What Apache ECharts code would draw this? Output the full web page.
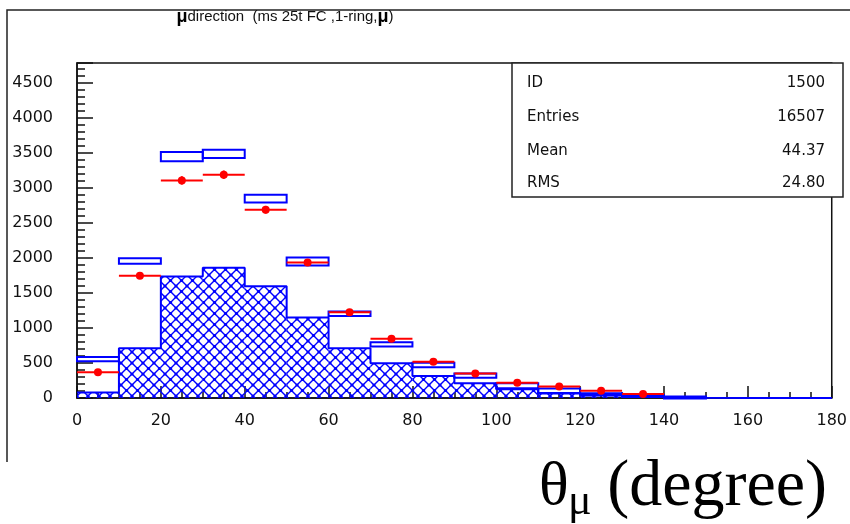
<!DOCTYPE html>
<html><head><meta charset="utf-8">
<script src="https://cdn.jsdelivr.net/npm/echarts@6/dist/echarts.min.js"></script>
<style>html,body{margin:0;padding:0;background:#fff}#c{width:850px;height:524px}</style>
</head><body><div id="c"></div>
<script>
// ---- data (bins of 10 degrees) ----
const binStarts = [0,10,20,30,40,50,60,70,80,90,100,110,120,130,140,150,160,170];
const binWidth = 10;
const hatched  = [80,710,1735,1860,1595,1150,710,495,315,210,125,65,35,15,5,0,0,0];
const mcLow    = [525,1915,3378,3425,2790,1890,1170,735,440,290,140,72,45,22,8,null,null,null];
const mcHigh   = [585,1995,3510,3543,2900,2004,1233,796,504,348,210,135,67,42,20,null,null,null];
const dataVals = [367,1743,3105,3186,2686,1933,1224,847,519,350,219,165,105,57,null,null,null,null];
const dataErr  = [25,45,60,60,55,45,35,30,25,20,15,13,10,8,null,null,null,null];
const statLabels = ['ID','Entries','Mean','RMS'];
const statValues = ['1500','16507','44.37','24.80'];
const titleText = '{b|μ}direction  (ms 25t FC ,1-ring,{b|μ})';

// ---- hatch pattern ----
const T = 11;
const pc = document.createElement('canvas');
pc.width = T; pc.height = T;
const g = pc.getContext('2d');
g.strokeStyle = '#0000ff'; g.lineWidth = 1.4;
g.beginPath(); g.moveTo(-1,-1); g.lineTo(T+1,T+1); g.moveTo(T+1,-1); g.lineTo(-1,T+1); g.stroke();
g.fillStyle = '#0000ff';
[[T/2,T/2],[0,0],[T,0],[0,T],[T,T]].forEach(p=>{g.beginPath(); g.arc(p[0],p[1],1.6,0,Math.PI*2); g.fill();});
const hatchFill = {image: pc, repeat: 'repeat'};

const chart = echarts.init(document.getElementById('c'), null, {renderer:'canvas'});
const BLUE = '#0000ff', RED = '#ff0000';
const labelFont = {fontFamily:'DejaVu Sans', fontSize:16, color:'#111'};

const stepData = binStarts.map((b,i)=>[b,hatched[i]]);
stepData.push([binStarts[binStarts.length-1]+binWidth, hatched[hatched.length-1]]);

const graphics = [
  {type:'polyline', shape:{points:[[7,462],[7,10],[850,10]]}, style:{stroke:'#222', lineWidth:1.5, fill:null}, z:100},
  {type:'text', x:285, y:17, style:{text:titleText, align:'center', verticalAlign:'middle',
     fontFamily:'Liberation Sans', fontSize:15, fill:'#111',
     rich:{b:{fontFamily:'Liberation Sans', fontSize:18, fontWeight:'bold', fill:'#000'}}}, z:100},
  {type:'rect', shape:{x:512, y:63, width:331, height:134}, style:{fill:'#fff', stroke:'#222', lineWidth:1.5}, z:100},
  {type:'text', x:539, y:488, style:{text:'θ', fontFamily:'Liberation Serif', fontSize:62, fill:'#000', align:'left', verticalAlign:'middle'}, z:100},
  {type:'text', x:568, y:502, style:{text:'μ', fontFamily:'Liberation Serif', fontSize:44, fill:'#000', align:'left', verticalAlign:'middle'}, z:100},
  {type:'text', x:827, y:488, style:{text:'(degree)', fontFamily:'Liberation Serif', fontSize:66, fill:'#000', align:'right', verticalAlign:'middle'}, z:100}
];
const rowY = [83,117,151,183];
statLabels.forEach((s,i)=>{
  graphics.push({type:'text', x:527, y:rowY[i], style:{text:s, fontFamily:'DejaVu Sans', fontSize:15, fill:'#111', align:'left', verticalAlign:'middle'}, z:101});
  graphics.push({type:'text', x:825, y:rowY[i], style:{text:statValues[i], fontFamily:'DejaVu Sans', fontSize:15, fill:'#111', align:'right', verticalAlign:'middle'}, z:101});
});

chart.setOption({
  animation:false,
  grid:{left:77, right:7, top:63, bottom:126, show:true, borderColor:'#111', borderWidth:1.5, backgroundColor:'#fff'},
  xAxis:{type:'value', min:0, max:180, interval:20,
    axisLine:{lineStyle:{color:'#111', width:1.5}},
    axisTick:{inside:true, length:12, lineStyle:{color:'#111', width:1.5}},
    minorTick:{show:true, splitNumber:4, length:6, lineStyle:{color:'#111', width:1.5}},
    splitLine:{show:false},
    axisLabel:Object.assign({margin:15, showMaxLabel:true, formatter:v=>String(v)}, labelFont)},
  yAxis:{type:'value', min:0, max:4780, interval:500,
    axisLine:{lineStyle:{color:'#111', width:1.5}},
    axisTick:{inside:true, length:16, lineStyle:{color:'#111', width:1.5}},
    minorTick:{show:true, splitNumber:5, length:8, lineStyle:{color:'#111', width:1.5}},
    splitLine:{show:false},
    axisLabel:Object.assign({margin:24, showMaxLabel:false, formatter:v=>String(v)}, labelFont)},
  graphic:graphics,
  series:[
    {type:'custom', z:2, data:binStarts.map((b,i)=>[b,hatched[i]]),
      renderItem:(p,api)=>{
        const x0=api.value(0), v=api.value(1);
        if(!v) return null;
        const a=api.coord([x0,0]), b=api.coord([x0+binWidth,v]);
        return {type:'rect', shape:{x:a[0], y:b[1], width:b[0]-a[0], height:a[1]-b[1]}, style:{fill:hatchFill}};
      }},
    {type:'line', z:3, step:'end', symbol:'none', data:stepData, lineStyle:{color:BLUE, width:2}},
    {type:'custom', z:4, data:binStarts.map((b,i)=>[b,mcLow[i],mcHigh[i]]).filter(d=>d[1]!=null),
      renderItem:(p,api)=>{
        const x0=api.value(0), lo=api.value(1), hi=api.value(2);
        const a=api.coord([x0,lo]), b=api.coord([x0+binWidth,hi]);
        return {type:'rect', shape:{x:a[0], y:b[1], width:b[0]-a[0], height:Math.max(a[1]-b[1],2)}, style:{fill:null, stroke:BLUE, lineWidth:2}};
      }},
    {type:'custom', z:5, data:binStarts.map((b,i)=>[b,dataVals[i],dataErr[i]]).filter(d=>d[1]!=null),
      renderItem:(p,api)=>{
        const x0=api.value(0), v=api.value(1), e=api.value(2);
        const a=api.coord([x0,v]), b=api.coord([x0+binWidth,v]), c=api.coord([x0+binWidth/2,v]);
        const up=api.coord([x0+binWidth/2,v+e]), dn=api.coord([x0+binWidth/2,v-e]);
        return {type:'group', children:[
          {type:'line', shape:{x1:a[0], y1:a[1], x2:b[0], y2:b[1]}, style:{stroke:RED, lineWidth:2}},
          {type:'line', shape:{x1:up[0], y1:up[1], x2:dn[0], y2:dn[1]}, style:{stroke:RED, lineWidth:2}},
          {type:'circle', shape:{cx:c[0], cy:c[1], r:4}, style:{fill:RED}}
        ]};
      }}
  ]
});
</script></body></html>
